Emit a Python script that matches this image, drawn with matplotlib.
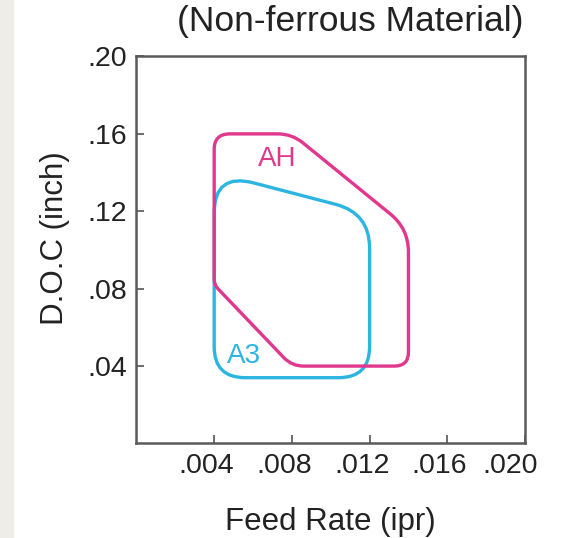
import numpy as np
import matplotlib.pyplot as plt
from matplotlib.path import Path
from matplotlib.patches import PathPatch, Rectangle
from matplotlib.transforms import ScaledTranslation

# contorno AH (feed rate, doc)
ah_feed = [0.004, 0.008, 0.014, 0.014, 0.008, 0.004]
ah_doc = [0.160, 0.160, 0.111, 0.040, 0.040, 0.082]

# contorno A3
a3_feed = [0.004, 0.012, 0.012, 0.004]
a3_doc = [0.140, 0.119, 0.034, 0.034]

xticks = [0.004, 0.008, 0.012, 0.016, 0.020]
xlabels = ['.004', '.008', '.012', '.016', '.020']
yticks = [0.04, 0.08, 0.12, 0.16, 0.20]
ylabels = ['.04', '.08', '.12', '.16', '.20']

# arredondamento dos cantos (fracao do eixo)
ah_cut = [0.040, 0.036, 0.060, 0.036, 0.030, 0.014]
a3_cut = [0.105, 0.090, 0.080, 0.080]

plt.rcParams['font.family'] = ['Liberation Sans', 'DejaVu Sans']

XMAX, YMAX = 0.020, 0.20


def rounded(xs, ys, cuts):
    '''poligono com cantos arredondados, calculado em coordenadas normalizadas'''
    p = np.column_stack([np.array(xs) / XMAX, np.array(ys) / YMAX])
    n = len(p)
    verts, codes = [], []
    for i in range(n):
        a, c, b = p[i - 1], p[i], p[(i + 1) % n]
        ua = (a - c) / np.linalg.norm(a - c)
        ub = (b - c) / np.linalg.norm(b - c)
        verts += [c + cuts[i] * ua, c, c + cuts[i] * ub]
        codes += [Path.MOVETO if i == 0 else Path.LINETO, Path.CURVE3, Path.CURVE3]
    verts += [verts[0], verts[0]]
    codes += [Path.LINETO, Path.CLOSEPOLY]
    verts = np.array(verts) * [XMAX, YMAX]
    return Path(verts, codes)


fig = plt.figure(figsize=(5.61, 5.38), dpi=100)
fig.patches.append(Rectangle((0, 0), 12.7 / 561, 1, transform=fig.transFigure,
                             color='#eeeee6', zorder=-1))
ax = fig.add_axes([0.2433, 0.1757, 0.6925, 0.7193])

pink = '#e1378d'
cyan = '#2db5e2'
ax.add_patch(PathPatch(rounded(a3_feed, a3_doc, a3_cut), fill=False,
                       edgecolor=cyan, lw=2.4))
ax.add_patch(PathPatch(rounded(ah_feed, ah_doc, ah_cut), fill=False,
                       edgecolor=pink, lw=2.4))

ax.text(0.00723, 0.147, 'AH', color=pink, fontsize=20, ha='center', va='center')
ax.text(0.00551, 0.0452, 'A3', color=cyan, fontsize=20, ha='center', va='center')

ax.set_xlim(0, XMAX)
ax.set_ylim(0, YMAX)
ax.set_xticks(xticks)
ax.set_xticklabels(xlabels)
ax.set_yticks(yticks)
ax.set_yticklabels(ylabels)
ax.tick_params(direction='in', length=6, width=1.2, color='#555555',
               labelsize=20.5, labelcolor='#222222', pad=7)

for s in ax.spines.values():
    s.set_color('#5a5a5a')
    s.set_linewidth(1.8)

# rotulos do eixo x um pouco deslocados para a esquerda
for i, lbl in enumerate(ax.get_xticklabels()):
    dx = -15 if i == len(xlabels) - 1 else -8
    lbl.set_transform(lbl.get_transform() + ScaledTranslation(dx / 100, 0, fig.dpi_scale_trans))

ax.set_xlabel('Feed Rate (ipr)', fontsize=22.5, color='#222222')
ax.set_ylabel('D.O.C (inch)', fontsize=22.5, color='#222222')
ax.xaxis.label.set_va('center')
ax.yaxis.label.set_va('center')
ax.xaxis.set_label_coords(0.5, -0.203)
ax.yaxis.set_label_coords(-0.21, 0.53)

fig.text(350 / 561, 1 - 22 / 538, '(Non-ferrous Material)', fontsize=25.5,
         color='#222222', ha='center', va='center')

fig.savefig('out.png', dpi=100)
